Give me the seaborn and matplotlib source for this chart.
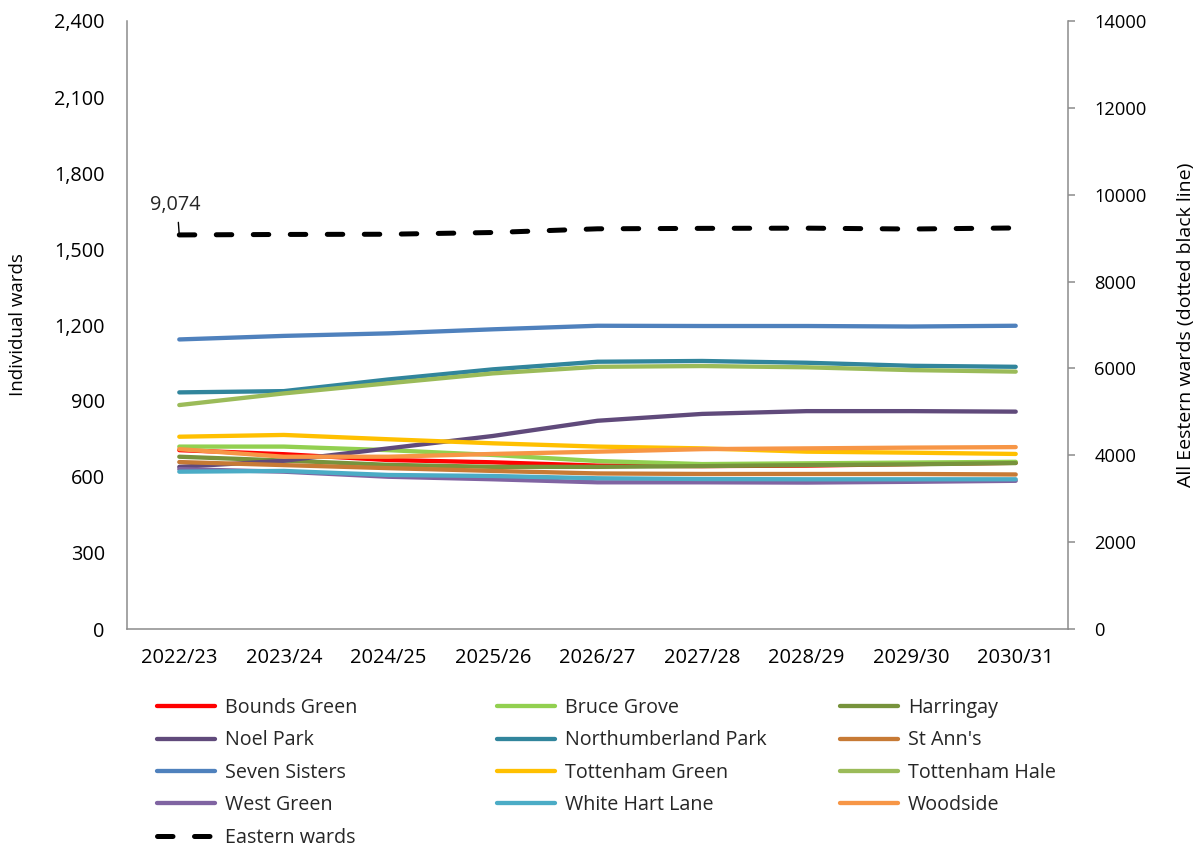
import matplotlib
matplotlib.use("Agg")
import matplotlib.pyplot as plt
import pandas as pd
import seaborn as sns
from matplotlib.lines import Line2D
from matplotlib.ticker import FuncFormatter

# Financial years on the category axis
years = ["2022/23", "2023/24", "2024/25", "2025/26", "2026/27",
         "2027/28", "2028/29", "2029/30", "2030/31"]

# Individual ward projections (left axis)
bounds_green = [706, 690, 667, 658, 645, 643, 645, 651, 656]
bruce_grove = [720, 720, 706, 687, 663, 651, 654, 657, 660]
harringay = [680, 665, 648, 640, 640, 643, 647, 650, 655]
noel_park = [640, 664, 713, 762, 822, 849, 860, 860, 858]
northumberland_park = [934, 939, 985, 1025, 1055, 1058, 1051, 1039, 1035]
st_anns = [659, 647, 635, 624, 614, 612, 612, 612, 610]
seven_sisters = [1143, 1157, 1167, 1183, 1197, 1196, 1196, 1194, 1197]
tottenham_green = [759, 766, 749, 733, 720, 713, 700, 696, 691]
tottenham_hale = [884, 930, 970, 1009, 1035, 1038, 1033, 1022, 1016]
west_green = [631, 621, 601, 591, 579, 579, 578, 581, 585]
white_hart_lane = [621, 624, 608, 604, 595, 592, 591, 591, 591]
woodside = [710, 680, 680, 691, 700, 710, 713, 716, 718]

# Total for all Eastern wards (right axis)
eastern_wards = [9074, 9085, 9090, 9130, 9215, 9225, 9230, 9210, 9235]

ward_names = ["Bounds Green", "Bruce Grove", "Harringay", "Noel Park",
              "Northumberland Park", "St Ann's", "Seven Sisters",
              "Tottenham Green", "Tottenham Hale", "West Green",
              "White Hart Lane", "Woodside"]
ward_values = [bounds_green, bruce_grove, harringay, noel_park,
               northumberland_park, st_anns, seven_sisters, tottenham_green,
               tottenham_hale, west_green, white_hart_lane, woodside]
ward_colors = ["#FF0000", "#92D050", "#77933C", "#604A7B", "#31859C",
               "#C77A35", "#4F81BD", "#FFC000", "#9BBB59", "#8064A2",
               "#4BACC6", "#F79646"]

left_ticks = [0, 300, 600, 900, 1200, 1500, 1800, 2100, 2400]
right_ticks = [0, 2000, 4000, 6000, 8000, 10000, 12000, 14000]

sns.set_style("white")
plt.rcParams["font.family"] = ["Open Sans", "DejaVu Sans"]
axis_grey = "#8C8C8C"

W, H = 1202, 847
fig = plt.figure(figsize=(W / 100, H / 100), dpi=100)
ax = fig.add_axes([127 / W, 1 - 629 / H, (1068 - 127) / W, (629 - 21) / H])

long_df = pd.DataFrame(
    [(name, yr, v) for name, vals in zip(ward_names, ward_values)
     for yr, v in zip(years, vals)],
    columns=["ward", "year", "value"],
)

sns.lineplot(data=long_df, x="year", y="value", hue="ward",
             hue_order=ward_names, palette=ward_colors, linewidth=3.1,
             sort=False, legend=False, ax=ax, solid_capstyle="round")

ax.set_xlim(-0.5, len(years) - 0.5)
ax.set_ylim(0, 2400)
ax.set_yticks(left_ticks)
ax.yaxis.set_major_formatter(FuncFormatter(lambda v, p: f"{v:,.0f}"))
ax.tick_params(axis="y", length=0, pad=16, labelsize=14.3, labelcolor="black")
ax.tick_params(axis="x", length=0, pad=14, labelsize=14.5, labelcolor="black")
ax.set_xlabel("")
ax.set_ylabel("Individual wards", fontsize=13.5, color="black")
ax.yaxis.set_label_coords(-0.106, 0.5)
for side in ["top", "right"]:
    ax.spines[side].set_visible(False)
for side in ["left", "bottom"]:
    ax.spines[side].set_color(axis_grey)
    ax.spines[side].set_linewidth(1.1)

# Secondary axis for the combined Eastern wards total
ax2 = ax.twinx()
sns.lineplot(x=years, y=eastern_wards, color="black", linewidth=3.6,
             sort=False, ax=ax2)
total_line = ax2.lines[0]
total_line.set_dashes((3.1, 4.3))
total_line.set_dash_capstyle("round")
ax2.set_ylim(0, 14000)
ax2.set_yticks(right_ticks)
ax2.yaxis.set_major_formatter(FuncFormatter(lambda v, p: f"{v:.0f}"))
ax2.tick_params(axis="y", length=5, width=1.1, color=axis_grey,
                direction="out", pad=14, labelsize=13.2, labelcolor="black")
ax2.set_ylabel("All Eestern wards (dotted black line)", fontsize=14,
               color="black", rotation=90)
ax2.yaxis.set_label_coords(1.116, 0.5)
for side in ["top", "left", "bottom"]:
    ax2.spines[side].set_visible(False)
ax2.spines["right"].set_color(axis_grey)
ax2.spines["right"].set_linewidth(1.1)

ax2.annotate(f"{eastern_wards[0]:,}", xy=(0, eastern_wards[0]),
             xytext=(-4, 30), textcoords="offset pixels",
             ha="center", va="center", fontsize=14.3,
             arrowprops=dict(arrowstyle="-", color="black", lw=1.0,
                             shrinkA=3, shrinkB=1, relpos=(0.55, 0)))

# Legend laid out in three fixed-width columns, filled row by row
handles = [Line2D([], [], color=c, lw=3.1, solid_capstyle="round")
           for c in ward_colors]
handles.append(Line2D([], [], color="black", lw=3.6, dashes=(3.1, 4.3),
                      dash_capstyle="round"))
labels = ward_names + ["Eastern wards"]
col_left = [157, 497, 840]
for c in range(3):
    idx = list(range(c, len(labels), 3))
    fig.legend([handles[i] for i in idx], [labels[i] for i in idx],
               loc="upper left",
               bbox_to_anchor=(col_left[c] / W, 1 - 698 / H),
               bbox_transform=fig.transFigure, frameon=False,
               borderpad=0, borderaxespad=0, handlelength=2.95,
               handletextpad=0.48, labelspacing=0.63,
               prop={"size": 14.2})

fig.savefig("out.png", dpi=100)
